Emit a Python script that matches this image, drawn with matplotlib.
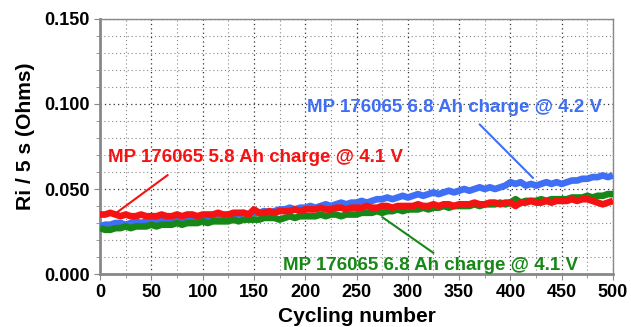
import matplotlib
matplotlib.use("Agg")
import matplotlib.pyplot as plt
from matplotlib.ticker import MultipleLocator, FormatStrFormatter
from matplotlib import font_manager

cycles = list(range(0, 501, 5))
ri_68_42 = [0.028, 0.029, 0.029, 0.030, 0.030, 0.029, 0.030, 0.031, 0.030, 0.031, 0.031,
            0.032, 0.031, 0.032, 0.032, 0.033, 0.032, 0.033, 0.033, 0.034, 0.033,
            0.034, 0.034, 0.035, 0.034, 0.035, 0.035, 0.035, 0.036, 0.035, 0.036,
            0.036, 0.037, 0.036, 0.037, 0.038, 0.038, 0.039, 0.038, 0.039, 0.039,
            0.040, 0.039, 0.040, 0.041, 0.040, 0.041, 0.042, 0.041, 0.042, 0.042,
            0.043, 0.042, 0.043, 0.044, 0.044, 0.045, 0.044, 0.045, 0.046, 0.045,
            0.046, 0.047, 0.046, 0.047, 0.048, 0.047, 0.048, 0.049, 0.048, 0.049,
            0.050, 0.049, 0.050, 0.051, 0.050, 0.051, 0.050, 0.051, 0.052, 0.054,
            0.053, 0.054, 0.052, 0.053, 0.052, 0.053, 0.054, 0.053, 0.054, 0.053,
            0.054, 0.055, 0.055, 0.056, 0.056, 0.057, 0.057, 0.058, 0.057, 0.058]
ri_58_41 = [0.035, 0.035, 0.036, 0.035, 0.034, 0.035, 0.034, 0.034, 0.035, 0.034, 0.034,
            0.034, 0.035, 0.034, 0.034, 0.035, 0.034, 0.035, 0.035, 0.034, 0.035,
            0.035, 0.035, 0.036, 0.035, 0.035, 0.036, 0.036, 0.036, 0.035, 0.038,
            0.036, 0.036, 0.037, 0.036, 0.037, 0.037, 0.037, 0.038, 0.037, 0.038,
            0.038, 0.038, 0.039, 0.038, 0.038, 0.039, 0.039, 0.038, 0.039, 0.039,
            0.039, 0.040, 0.039, 0.039, 0.040, 0.040, 0.039, 0.040, 0.040, 0.040,
            0.040, 0.041, 0.040, 0.040, 0.041, 0.040, 0.041, 0.041, 0.040, 0.041,
            0.041, 0.041, 0.042, 0.041, 0.041, 0.042, 0.042, 0.041, 0.042, 0.042,
            0.040, 0.042, 0.042, 0.043, 0.042, 0.042, 0.043, 0.042, 0.043, 0.043,
            0.043, 0.044, 0.043, 0.044, 0.044, 0.043, 0.042, 0.041, 0.042, 0.043]
ri_68_41 = [0.027, 0.026, 0.026, 0.027, 0.027, 0.028, 0.027, 0.028, 0.028, 0.028, 0.029,
            0.028, 0.029, 0.029, 0.029, 0.030, 0.029, 0.030, 0.030, 0.030, 0.031,
            0.030, 0.031, 0.031, 0.031, 0.031, 0.032, 0.031, 0.032, 0.032, 0.032,
            0.032, 0.033, 0.033, 0.033, 0.032, 0.033, 0.034, 0.033, 0.034, 0.034,
            0.034, 0.034, 0.035, 0.034, 0.035, 0.035, 0.034, 0.035, 0.035, 0.035,
            0.036, 0.036, 0.036, 0.037, 0.036, 0.037, 0.037, 0.038, 0.037, 0.038,
            0.038, 0.038, 0.039, 0.038, 0.039, 0.039, 0.040, 0.039, 0.040, 0.040,
            0.040, 0.040, 0.041, 0.040, 0.041, 0.041, 0.041, 0.042, 0.041, 0.042,
            0.044, 0.042, 0.043, 0.043, 0.043, 0.044, 0.043, 0.044, 0.044, 0.044,
            0.044, 0.045, 0.045, 0.045, 0.046, 0.045, 0.046, 0.046, 0.047, 0.047]

labels = ["MP 176065 6.8 Ah charge @ 4.2 V",
          "MP 176065 5.8 Ah charge @ 4.1 V",
          "MP 176065 6.8 Ah charge @ 4.1 V"]
blue, red, green = "#3f6ff5", "#f51212", "#178817"

plt.rcParams['font.family'] = ['Liberation Sans', 'DejaVu Sans']
plt.rcParams['font.weight'] = 'bold'

names = {f.name for f in font_manager.fontManager.ttflist}
narrow = 'Liberation Sans Narrow' if 'Liberation Sans Narrow' in names else 'Liberation Sans'

fig = plt.figure(figsize=(6.31, 3.27), dpi=100)
ax = fig.add_axes([0.1585, 0.162, 0.8130, 0.780])

kw = dict(lw=4.8, solid_joinstyle='round', solid_capstyle='butt')
ax.plot(cycles, ri_68_42, color=blue, zorder=3, **kw)
ax.plot(cycles, ri_68_41, color=green, zorder=4, **kw)
ax.plot(cycles, ri_58_41, color=red, zorder=5, **kw)

ax.set_xlim(0, 500)
ax.set_ylim(0, 0.150)
ax.xaxis.set_major_locator(MultipleLocator(50))
ax.xaxis.set_minor_locator(MultipleLocator(25))
ax.yaxis.set_major_locator(MultipleLocator(0.05))
ax.yaxis.set_minor_locator(MultipleLocator(0.01))
ax.yaxis.set_major_formatter(FormatStrFormatter('%.3f'))

ax.grid(which='major', color='#333333', linestyle=(0, (1, 2.5)), linewidth=0.9)
ax.grid(which='minor', color='#888888', linestyle=(0, (1, 2.5)), linewidth=0.8)
ax.set_axisbelow(True)

for s in ['top', 'right']:
    ax.spines[s].set_color('#888888')
    ax.spines[s].set_linewidth(1.0)
for s in ['left', 'bottom']:
    ax.spines[s].set_color('#888888')
    ax.spines[s].set_linewidth(2.0)

ax.tick_params(which='both', direction='out', color='#888888', labelsize=13)
ax.tick_params(which='major', length=4)
ax.tick_params(which='minor', length=3)
for t in ax.get_xticklabels() + ax.get_yticklabels():
    t.set_fontweight('bold')

ax.set_xlabel("Cycling number", fontsize=15, fontweight='bold')
ax.xaxis.set_label_coords(0.501, -0.128)
ax.set_ylabel("Ri / 5 s (Ohms)", fontsize=15.2, fontweight='bold',
              family=[narrow, 'DejaVu Sans'])
ax.yaxis.set_label_coords(-0.127, 0.54)

line = dict(arrowstyle='-', lw=1.5, shrinkA=0, shrinkB=0)
ax.annotate('', xy=(422, 0.0565), xytext=(370, 0.088),
            arrowprops=dict(color=blue, **line), zorder=6)
ax.annotate('', xy=(13, 0.0347), xytext=(66, 0.0582),
            arrowprops=dict(color=red, **line), zorder=6)
ax.annotate('', xy=(275, 0.0335), xytext=(325, 0.0124),
            arrowprops=dict(color=green, **line), zorder=6)

ax.text(202, 0.098, labels[0], color=blue, fontsize=13.5, fontweight='bold',
        va='center', ha='left', zorder=7)
ax.text(8, 0.0688, labels[1], color=red, fontsize=13.5, fontweight='bold',
        va='center', ha='left', zorder=7)
ax.text(178, 0.0053, labels[2], color=green, fontsize=13.5, fontweight='bold',
        va='center', ha='left', zorder=7)

fig.savefig("out.png", dpi=100)
